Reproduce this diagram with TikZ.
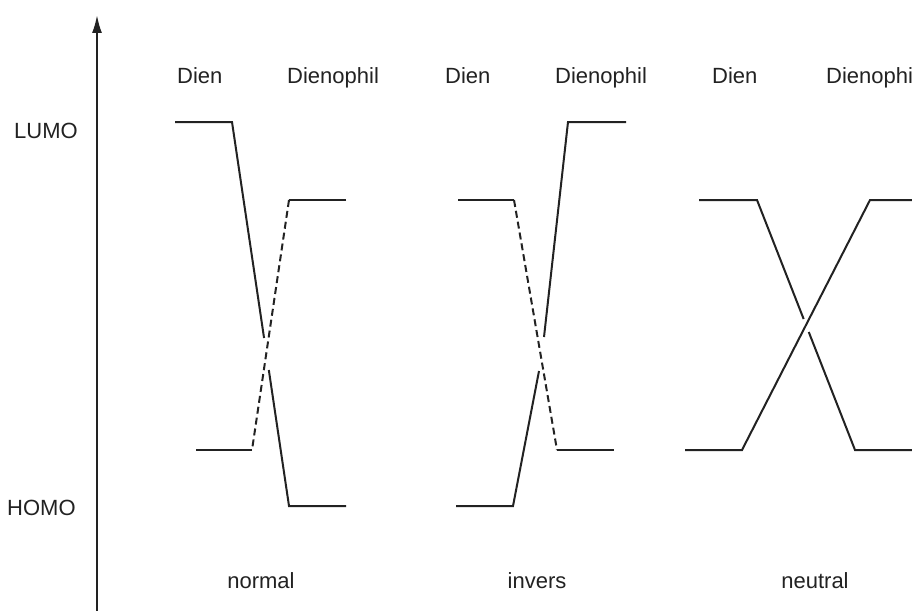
\documentclass[tikz,border=0pt]{standalone}
\usepackage{fontspec}
\setmainfont{Liberation Sans}
\usetikzlibrary{arrows.meta,calc}
\definecolor{ink}{HTML}{222222}
\begin{document}
\begin{tikzpicture}[x=1pt,y=-1pt,
  lvl/.style={line width=2pt, draw=ink, line cap=butt, line join=miter},
  dsh/.style={lvl, dash pattern=on 7pt off 4pt},
  lbl/.style={anchor=base west, inner sep=0pt, text=ink, font=\fontsize{22}{26}\selectfont}]
\useasboundingbox (0,0) rectangle (912,610);
\clip (0,0) rectangle (912,610);
\fill[white] (0,0) rectangle (912,610);

% axis
\coordinate (ax0) at (97,612);
\coordinate (ax1) at (97,15);
\draw[line width=2pt, draw=ink, -{Latex[length=18pt,width=10pt]}] (ax0) -- (ax1);
\node[lbl] (lumo) at (14,138) {LUMO};
\node[lbl] (homo) at (7,515) {HOMO};

% headers
\node[lbl] (d1) at (177,83) {Dien};
\node[lbl] (p1) at (287,83) {Dienophil};
\node[lbl] (d2) at (445,83) {Dien};
\node[lbl] (p2) at (555,83) {Dienophil};
\node[lbl] (d3) at (712,83) {Dien};
\node[lbl] (p3) at (826,83) {Dienophil};

% captions
\node[lbl, anchor=base] (cn) at (261,588) {normal};
\node[lbl, anchor=base] (ci) at (537,588) {invers};
\node[lbl, anchor=base] (ce) at (815,588) {neutral};

% normal
\coordinate (n1) at (175,122);
\coordinate (n2) at (232,122);
\coordinate (n3) at (289,506);
\coordinate (n4) at (346,506);
\coordinate (n5) at (346,200);
\coordinate (n6) at (289,200);
\coordinate (n7) at (252,450);
\coordinate (n8) at (196,450);
\draw[lvl] (n1) -- (n2) -- ($(n2)!0.5625!(n3)$);
\draw[lvl] ($(n2)!0.6458!(n3)$) -- (n3) -- (n4);
\draw[lvl] (n5) -- (n6);
\draw[dsh] (n6) -- (n7);
\draw[lvl] (n7) -- (n8);

% invers
\coordinate (i1) at (458,200);
\coordinate (i2) at (514,200);
\coordinate (i3) at (557,450);
\coordinate (i4) at (614,450);
\coordinate (i5) at (456,506);
\coordinate (i6) at (513,506);
\coordinate (i7) at (539,371);
\coordinate (i8) at (544,337);
\coordinate (i9) at (568,122);
\coordinate (i10) at (626,122);
\draw[lvl] (i1) -- (i2);
\draw[dsh] (i2) -- (i3);
\draw[lvl] (i3) -- (i4);
\draw[lvl] (i5) -- (i6) -- (i7);
\draw[lvl] (i8) -- (i9) -- (i10);

% neutral
\coordinate (e1) at (699,200);
\coordinate (e2) at (757,200);
\coordinate (e3) at (855,450);
\coordinate (e4) at (920,450);
\coordinate (e5) at (685,450);
\coordinate (e6) at (742,450);
\coordinate (e7) at (870,200);
\coordinate (e8) at (920,200);
\draw[lvl] (e1) -- (e2) -- ($(e2)!0.476!(e3)$);
\draw[lvl] ($(e2)!0.528!(e3)$) -- (e3) -- (e4);
\draw[lvl] (e5) -- (e6) -- (e7) -- (e8);
\end{tikzpicture}
\end{document}
